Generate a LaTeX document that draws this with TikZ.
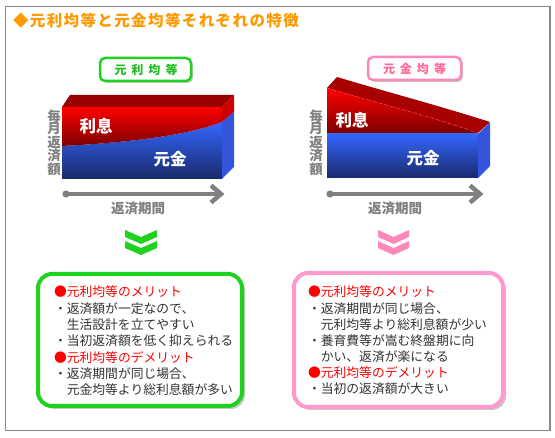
\documentclass[tikz,border=0pt]{standalone}
\usepackage{fontspec}
\setmainfont{Noto Sans CJK JP}
\newfontfamily\jpwide[LetterSpace=9]{Noto Sans CJK JP}
\definecolor{frameg}{HTML}{888888}
\definecolor{orangeT}{HTML}{FF9900}
\definecolor{greenB}{HTML}{1ED21E}
\definecolor{greenT}{HTML}{22BB22}
\definecolor{pinkB}{HTML}{FF88BB}
\definecolor{pinkT}{HTML}{FF6699}
\definecolor{pinkL}{HTML}{FF99CC}
\definecolor{redA}{HTML}{FF0000}
\definecolor{redB}{HTML}{7A0000}
\definecolor{redTop}{HTML}{990000}
\definecolor{redSide}{HTML}{CC0000}
\definecolor{blueA}{HTML}{3366FF}
\definecolor{blueB}{HTML}{1A2A6A}
\definecolor{blueSide}{HTML}{3355DD}
\definecolor{axisg}{HTML}{808080}
\definecolor{txtg}{HTML}{333333}
\definecolor{shadowg}{HTML}{C8C8C8}
\tikzset{
  lbl/.style={font=\bfseries\fontsize{16.5}{16.5}\selectfont, text=white},
  ylab/.style={font=\bfseries\fontsize{13.5}{12.3}\selectfont, text=axisg, align=center},
  xlab/.style={font=\bfseries\fontsize{13.5}{13.5}\selectfont, text=axisg},
  axisline/.style={draw=axisg, line width=4.5pt},
  infotxt/.style={anchor=west, font=\fontsize{12.8}{12.8}\selectfont, text=txtg},
  infohead/.style={anchor=west, font=\fontsize{12.8}{12.8}\selectfont, text=redA},
}
\begin{document}
\begin{tikzpicture}[x=1pt,y=-1pt, every node/.style={inner sep=0pt, outer sep=0pt}]
\useasboundingbox (0,0) rectangle (555,438);
\fill[white] (0,0) rectangle (555,438);
\draw[frameg, line width=1.2pt] (5.5,6.5) rectangle (550,430.5);
\node[anchor=west, font=\jpwide\bfseries\fontsize{15.5}{15.5}\selectfont, text=orangeT] (title) at (13,21) {◆元利均等と元金均等それぞれの特徴};

% ---------- left label box
\fill[shadowg, rounded corners=5pt] (102,60) rectangle (193,83);
\draw[greenB, line width=2.5pt, fill=white, rounded corners=5pt] (100,58) rectangle (191,81);
\node[font=\bfseries\fontsize{12}{12}\selectfont, text=greenT] (lab1) at (146,69.5) {元\hspace{5pt}利\hspace{5pt}均\hspace{5pt}等};

% ---------- right label box
\fill[shadowg, rounded corners=5pt] (370,59) rectangle (463,82);
\draw[pinkB, line width=2.5pt, fill=white, rounded corners=5pt] (368,57) rectangle (461,80);
\node[font=\bfseries\fontsize{12}{12}\selectfont, text=pinkT] (lab2) at (414.5,68.5) {元\hspace{5pt}金\hspace{5pt}均\hspace{5pt}等};

% ---------- left chart
\fill[redTop] (62,107)--(70,95)--(234,95)--(222,107)--cycle;
\shade[top color=blueA, bottom color=blueB] (62,146) .. controls (140,142) and (190,134) .. (222,122) -- (222,179) -- (62,179) -- cycle;
\shade[top color=redA, bottom color=redB] (62,107) -- (222,107) -- (222,122) .. controls (190,134) and (140,142) .. (62,146) -- cycle;
\fill[redSide] (222,107)--(234,95)--(234,112)--(222,122)--cycle;
\fill[blueSide] (222,122)--(234,112)--(234,167)--(222,179)--cycle;
\node[lbl] (ri1) at (96,126) {利息};
\node[lbl] (gk1) at (170,159) {元金};
\node[ylab] (y1) at (54,143) {毎\\月\\返\\済\\額};
\coordinate (a1s) at (66,194);
\coordinate (a1e) at (221,194);
\draw[axisline] (a1s) -- (a1e);
\fill[axisg] (a1s) circle (3.6pt);
\draw[axisg, line width=4.5pt, line join=miter] ([xshift=-10pt,yshift=-8.5pt]a1e) -- (a1e) -- ([xshift=-10pt,yshift=8.5pt]a1e);
\node[xlab] (x1) at (138,208) {返済期間};

% ---------- right chart
\fill[redTop!110!black] (327,88) -- (337,77) .. controls (380,90) and (440,106) .. (490,122) -- (478,133) .. controls (430,116) and (370,101) .. (327,88) -- cycle;
\shade[top color=redA, bottom color=redB] (327,88) .. controls (370,101) and (430,116) .. (478,133) -- (478,134) -- (327,134) -- cycle;
\draw[red!70!white, dashed, line width=0.4pt] (327,88) .. controls (370,101) and (430,116) .. (478,133);
\shade[top color=blueA, bottom color=blueB] (327,134) rectangle (478,178);
\fill[blueSide] (478,134)--(490,122)--(490,166)--(478,178)--cycle;
\node[lbl] (ri2) at (352,120) {利息};
\node[lbl] (gk2) at (423,158) {元金};
\node[ylab] (y2) at (316,143) {毎\\月\\返\\済\\額};
\coordinate (a2s) at (330,194);
\coordinate (a2e) at (480,194);
\draw[axisline] (a2s) -- (a2e);
\fill[axisg] (a2s) circle (3.6pt);
\draw[axisg, line width=4.5pt, line join=miter] ([xshift=-10pt,yshift=-8.5pt]a2e) -- (a2e) -- ([xshift=-10pt,yshift=8.5pt]a2e);
\node[xlab] (x2) at (395,208) {返済期間};

% ---------- chevrons
\fill[greenB] (125,230)--(141,237)--(157,230)--(157,237)--(141,244)--(125,237)--cycle;
\fill[greenB] (125,241)--(141,248)--(157,241)--(157,248)--(141,255)--(125,248)--cycle;
\fill[pinkB] (378,230)--(393.5,237)--(409,230)--(409,237)--(393.5,244)--(378,237)--cycle;
\fill[pinkB] (378,241)--(393.5,248)--(409,241)--(409,248)--(393.5,255)--(378,248)--cycle;

% ---------- left info box
\fill[shadowg, rounded corners=14pt] (41,277) rectangle (245,409);
\draw[greenB, line width=4pt, fill=white, rounded corners=14pt] (38,274) rectangle (242,406);
\node[infohead] (l1) at (54,292) {●元利均等のメリット};
\node[infotxt] (l2) at (54,308.5) {・返済額が一定なので、};
\node[infotxt] (l3) at (66.8,325) {生活設計を立てやすい};
\node[infotxt] (l4) at (54,341) {・当初返済額を低く抑えられる};
\node[infohead] (l5) at (54,357.5) {●元利均等のデメリット};
\node[infotxt] (l6) at (54,374) {・返済期間が同じ場合、};
\node[infotxt] (l7) at (66.8,390) {元金均等より総利息額が多い};

% ---------- right info box
\fill[shadowg, rounded corners=14pt] (297,276) rectangle (506,410);
\draw[pinkL, line width=4pt, fill=white, rounded corners=14pt] (294,273) rectangle (503,407);
\node[infohead] (r1) at (308,292) {●元利均等のメリット};
\node[infotxt] (r2) at (308,308.5) {・返済期間が同じ場合、};
\node[infotxt] (r3) at (320.8,325) {元利均等より総利息額が少い};
\node[infotxt] (r4) at (308,341) {・養育費等が嵩む終盤期に向};
\node[infotxt] (r5) at (320.8,357) {かい、返済が楽になる};
\node[infohead] (r6) at (308,373) {●元利均等のデメリット};
\node[infotxt] (r7) at (308,389) {・当初の返済額が大きい};
\end{tikzpicture}
\end{document}
